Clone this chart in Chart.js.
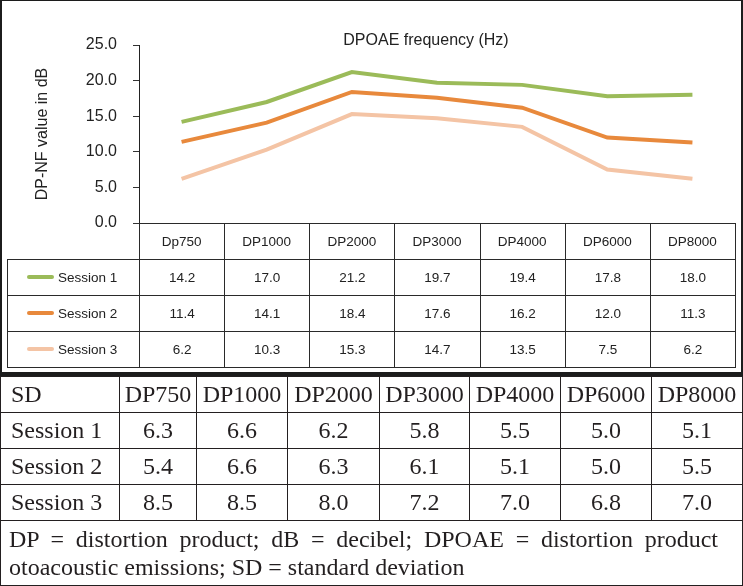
<!DOCTYPE html>
<html>
<head>
<meta charset="utf-8">
<script src="https://cdn.jsdelivr.net/npm/chart.js@4.4.0/dist/chart.umd.min.js"></script>
<style>
body { margin: 0; background: #fff; }
#page { position: relative; width: 743px; height: 586px; overflow: hidden; font-family: "Liberation Sans", Arial, sans-serif; color: #222; }
#panel { position: absolute; left: 0; top: 0; width: 743px; height: 377px; box-sizing: border-box; border: 2px solid #1c1c1c; border-top-width: 1px; border-bottom-width: 5px; }
#chartBox { position: absolute; left: 0; top: 0; }
#dataTable { position: absolute; border-collapse: collapse; table-layout: fixed; font-size: 13.5px; }
#dataTable td { border: 1px solid #2a2a2a; text-align: center; padding: 0; height: 35px; }
#dataTable td.blank { border: none; }
#dataTable td.name { text-align: left; padding-left: 19px; }
.swatch { display: inline-block; width: 27px; height: 4px; border-radius: 2px; vertical-align: middle; margin-right: 4px; position: relative; top: -1px; }
#sdTable { position: absolute; left: 0; top: 376px; border-collapse: collapse; table-layout: fixed; font-family: "Liberation Serif", "Times New Roman", serif; font-size: 24px; color: #231f20; }
#sdTable td { border: 1px solid #231f20; text-align: center; padding: 0; height: 35px; white-space: nowrap; }
#sdTable td.lead { text-align: left; padding-left: 10px; }
#sdTable td.note { text-align: justify; text-align-last: left; white-space: normal; padding: 4px 24px 4px 8px; line-height: 28px; height: auto; }
</style>
</head>
<body>
<div id="page">
  <canvas id="chartBox" width="743" height="262"></canvas>
  <div id="panel"></div>
  <table id="dataTable"></table>
  <table id="sdTable"></table>
</div>
<script>
const categories = ['Dp750', 'DP1000', 'DP2000', 'DP3000', 'DP4000', 'DP6000', 'DP8000'];
const session1 = [14.2, 17.0, 21.2, 19.7, 19.4, 17.8, 18.0];
const session2 = [11.4, 14.1, 18.4, 17.6, 16.2, 12.0, 11.3];
const session3 = [6.2, 10.3, 15.3, 14.7, 13.5, 7.5, 6.2];
const seriesNames = ['Session 1', 'Session 2', 'Session 3'];
const seriesColors = ['#9bbb59', '#e8893c', '#f4c4a5'];

const yMin = 0;
const yMax = 25;
const yStep = 5;
const chartTitle = 'DPOAE frequency (Hz)';
const yTitle = 'DP-NF value in dB';

const sdColumns = ['DP750', 'DP1000', 'DP2000', 'DP3000', 'DP4000', 'DP6000', 'DP8000'];
const sdSession1 = [6.3, 6.6, 6.2, 5.8, 5.5, 5.0, 5.1];
const sdSession2 = [5.4, 6.6, 6.3, 6.1, 5.1, 5.0, 5.5];
const sdSession3 = [8.5, 8.5, 8.0, 7.2, 7.0, 6.8, 7.0];
const footnote = 'DP = distortion product; dB = decibel; DPOAE = distortion product otoacoustic emissions; SD = standard deviation';

Chart.defaults.font.family = '"Liberation Sans", Arial, sans-serif';
Chart.defaults.color = '#222';

// title sits off-centre in the original, so draw it ourselves
const topTitle = {
    id: 'topTitle',
    afterDraw(chart) {
        const ctx = chart.ctx;
        ctx.save();
        ctx.font = '16px "Liberation Sans", Arial, sans-serif';
        ctx.fillStyle = '#222';
        ctx.textAlign = 'center';
        ctx.textBaseline = 'middle';
        ctx.fillText(chartTitle, chart.chartArea.left + 287, 41);
        ctx.restore();
    }
};

const seriesValues = [session1, session2, session3];

const chart = new Chart(document.getElementById('chartBox'), {
    type: 'line',
    data: {
        labels: categories,
        datasets: seriesValues.map((values, i) => ({
            label: seriesNames[i],
            data: values,
            borderColor: seriesColors[i],
            backgroundColor: seriesColors[i],
            borderWidth: 4,
            pointRadius: 0,
            tension: 0,
            fill: false
        }))
    },
    options: {
        responsive: false,
        animation: false,
        devicePixelRatio: 1,
        layout: { padding: { left: 0, right: 8, top: 45, bottom: 3 } },
        plugins: {
            legend: { display: false },
            tooltip: { enabled: false }
        },
        scales: {
            x: {
                offset: true,
                grid: { display: false },
                border: { display: true, color: '#222', width: 1 },
                ticks: { font: { size: 13.5 }, color: '#222', padding: 3, maxRotation: 0, autoSkip: false },
                afterFit: scale => { scale.height = 36; }
            },
            y: {
                min: yMin,
                max: yMax,
                ticks: {
                    stepSize: yStep,
                    font: { size: 16 },
                    color: '#222',
                    padding: 16,
                    callback: v => v.toFixed(1)
                },
                grid: { drawOnChartArea: false, tickLength: 6, color: '#333' },
                border: { display: true, color: '#222', width: 1 },
                title: { display: true, text: yTitle, font: { size: 16 }, color: '#222', padding: { top: 33, bottom: 0 } },
                afterFit: scale => { scale.width = 139; }
            }
        }
    },
    plugins: [topTitle]
});

function buildDataTable() {
    const area = chart.chartArea;
    const table = document.getElementById('dataTable');
    const left = 7;
    const colW = (area.right - area.left) / categories.length;
    table.style.left = left + 'px';
    table.style.top = area.bottom + 'px';
    table.style.width = (area.right - left) + 'px';

    let html = '<colgroup><col style="width:' + (area.left - left) + 'px">';
    categories.forEach(() => { html += '<col style="width:' + colW + 'px">'; });
    html += '</colgroup>';

    // header row: labels come from the chart's own x axis
    html += '<tr><td class="blank"></td>';
    categories.forEach(() => { html += '<td></td>'; });
    html += '</tr>';

    seriesValues.forEach((values, i) => {
        html += '<tr><td class="name"><span class="swatch" style="background:' + seriesColors[i] + '"></span>' + seriesNames[i] + '</td>';
        values.forEach(v => { html += '<td>' + v.toFixed(1) + '</td>'; });
        html += '</tr>';
    });
    table.innerHTML = html;
}

function buildSdTable() {
    const table = document.getElementById('sdTable');
    const widths = [119, 77, 91, 92, 90, 91, 91, 91];
    const total = widths.reduce((a, b) => a + b, 0);
    table.style.width = total + 'px';

    let html = '<colgroup>';
    widths.forEach(w => { html += '<col style="width:' + w + 'px">'; });
    html += '</colgroup>';

    html += '<tr><td class="lead">SD</td>';
    sdColumns.forEach(c => { html += '<td>' + c + '</td>'; });
    html += '</tr>';

    [sdSession1, sdSession2, sdSession3].forEach((values, i) => {
        html += '<tr><td class="lead">' + seriesNames[i] + '</td>';
        values.forEach(v => { html += '<td>' + v.toFixed(1) + '</td>'; });
        html += '</tr>';
    });

    html += '<tr><td class="note" colspan="8">' + footnote + '</td></tr>';
    table.innerHTML = html;
}

buildDataTable();
buildSdTable();
</script>
</body>
</html>
